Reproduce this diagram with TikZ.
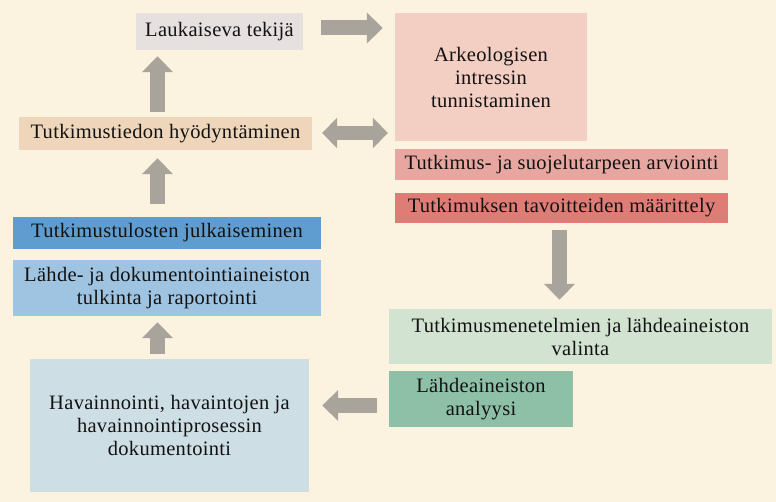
\documentclass[tikz,border=0pt]{standalone}
\usepackage{fontspec}
\setmainfont{Liberation Serif}[LetterSpace=1.5]
\usetikzlibrary{arrows.meta}
\definecolor{bg}{HTML}{FBF2E0}
\definecolor{cLauk}{HTML}{E6E0DF}
\definecolor{cArk}{HTML}{F2CEC3}
\definecolor{cHyod}{HTML}{EFD6BA}
\definecolor{cArv}{HTML}{E8A6A0}
\definecolor{cTav}{HTML}{DE7C76}
\definecolor{cJulk}{HTML}{5F9DD0}
\definecolor{cTulk}{HTML}{9EC4E2}
\definecolor{cVal}{HTML}{D3E3D2}
\definecolor{cAnal}{HTML}{8EC0A7}
\definecolor{cHav}{HTML}{CEDEE5}
\definecolor{arrowgray}{HTML}{A8A49C}
\definecolor{txt}{HTML}{121212}
\begin{document}
\begin{tikzpicture}[x=1pt,y=-1pt,
  box/.style={inner sep=0pt, align=center, text=txt,
    font=\fontsize{20.5}{23}\selectfont},
  bigarrow/.style={draw=arrowgray, line width=15pt,
    -{Triangle[length=16pt,width=30pt]}},
  dblarrow/.style={draw=arrowgray, line width=14pt,
    {Triangle[length=15pt,width=30pt]}-{Triangle[length=15pt,width=30pt]}}]
\fill[bg] (0,0) rectangle (776,502);
\useasboundingbox (0,0) rectangle (776,502);

\node[box, fill=cLauk, minimum width=167pt, minimum height=37pt] (lauk) at (219.5,31.5) {Laukaiseva tekijä};
\node[box, fill=cArk, minimum width=192pt, minimum height=128pt] (ark) at (491,77) {Arkeologisen\\intressin\\tunnistaminen};
\node[box, fill=cHyod, minimum width=293pt, minimum height=33pt] (hyod) at (165.5,133.5) {Tutkimustiedon hyödyntäminen};
\node[box, fill=cArv, minimum width=333pt, minimum height=31pt] (arv) at (561.5,164.5) {Tutkimus- ja suojelutarpeen arviointi};
\node[box, fill=cTav, minimum width=333pt, minimum height=30pt] (tav) at (561.5,208) {Tutkimuksen tavoitteiden määrittely};
\node[box, fill=cJulk, minimum width=308pt, minimum height=32pt] (julk) at (167,233) {Tutkimustulosten julkaiseminen};
\node[box, fill=cTulk, minimum width=308pt, minimum height=56pt] (tulk) at (167,288) {Lähde- ja dokumentointiaineiston\\tulkinta ja raportointi};
\node[box, fill=cVal, minimum width=383pt, minimum height=55pt] (val) at (580.5,336.5) {Tutkimusmenetelmien ja lähdeaineiston\\valinta};
\node[box, fill=cAnal, minimum width=184pt, minimum height=56pt] (anal) at (481,399) {Lähdeaineiston\\analyysi};
\node[box, fill=cHav, minimum width=279pt, minimum height=133pt] (hav) at (169.5,425.5) {Havainnointi, havaintojen ja\\havainnointiprosessin\\dokumentointi};

\coordinate (upx) at (157.5,0);
\coordinate (rY) at (0,28);
\coordinate (dY) at (0,133);
\coordinate (downx) at (559.5,0);
\coordinate (lY) at (0,405.5);

\draw[bigarrow, shorten <=5pt, shorten >=6pt] (hyod.north -| upx) -- (lauk.south -| upx);
\draw[bigarrow, shorten <=13pt, shorten >=8pt] (julk.north -| upx) -- (hyod.south -| upx);
\draw[bigarrow, shorten <=5pt, shorten >=6pt] (hav.north -| upx) -- (tulk.south -| upx);
\draw[bigarrow, shorten <=18pt, shorten >=12pt] (lauk.east |- rY) -- (ark.west |- rY);
\draw[dblarrow, shorten <=10pt, shorten >=7pt] (hyod.east |- dY) -- (ark.west |- dY);
\draw[bigarrow, shorten <=7pt, shorten >=9pt] (tav.south -| downx) -- (val.north -| downx);
\draw[bigarrow, shorten <=12pt, shorten >=13pt] (anal.west |- lY) -- (hav.east |- lY);
\end{tikzpicture}
\end{document}
